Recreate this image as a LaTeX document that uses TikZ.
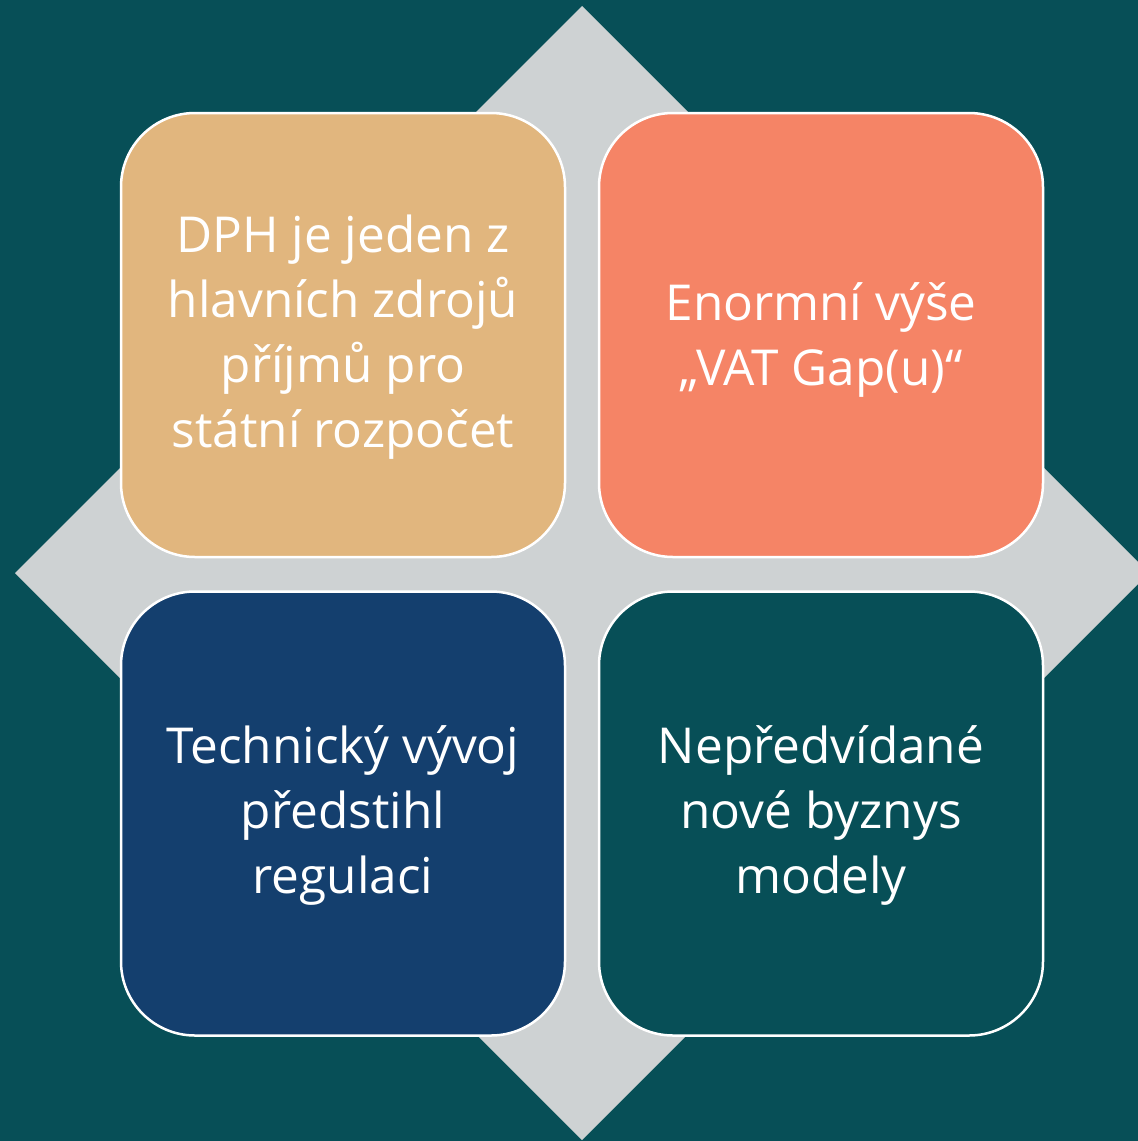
\documentclass[tikz,border=0pt]{standalone}
\usepackage{fontspec}
\setmainfont{Open Sans}
\definecolor{bgteal}{HTML}{074F57}
\definecolor{diagray}{HTML}{CED2D3}
\definecolor{sand}{HTML}{E1B67E}
\definecolor{coral}{HTML}{F58466}
\definecolor{navy}{HTML}{143F6E}
\tikzset{
  card/.style={draw=white, line width=2.5pt, rounded corners=74pt, minimum width=444pt, minimum height=444pt, inner sep=0pt, outer sep=0pt},
  cardtext/.style={text=white, align=center, font=\fontsize{49.5}{65}\selectfont}
}
\begin{document}
\begin{tikzpicture}[x=1pt,y=-1pt]
\fill[bgteal] (0,0) rectangle (1138,1141);
\useasboundingbox (0,0) rectangle (1138,1141);
\coordinate (dtop) at (582,6);
\coordinate (dright) at (1149,573);
\coordinate (dbottom) at (582,1140);
\coordinate (dleft) at (15,573);
\fill[diagray] (dtop) -- (dright) -- (dbottom) -- (dleft) -- cycle;
\node[card, fill=sand] (tl) at (343,335) {};
\node[card, fill=coral] (tr) at (821,335) {};
\node[card, fill=navy] (bl) at (343,813.5) {};
\node[card, fill=bgteal] (br) at (821,813.5) {};
\node[cardtext] (tltext) at (343,337) {DPH je jeden z\\hlavních zdrojů\\příjmů pro\\státní rozpočet};
\node[cardtext] (trtext) at (821,340) {Enormní výše\\„VAT Gap(u)“};
\node[cardtext] (bltext) at (343,815) {Technický vývoj\\předstihl\\regulaci};
\node[cardtext] (brtext) at (821,815) {Nepředvídané\\nové byznys\\modely};
\end{tikzpicture}
\end{document}
